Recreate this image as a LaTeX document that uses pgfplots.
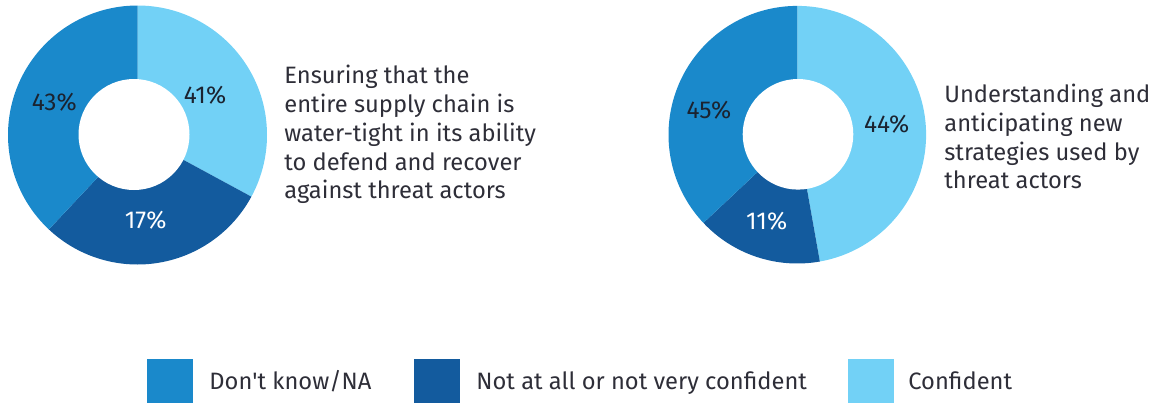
\documentclass[border=0pt]{standalone}
\usepackage{pgfplots}
\pgfplotsset{compat=1.18}
\usepackage{fontspec}
\setmainfont{Fira Sans}
\newfontfamily\plainfont{Fira Sans}
\definecolor{cDK}{HTML}{1A89CB}
\definecolor{cNot}{HTML}{135B9E}
\definecolor{cConf}{HTML}{72D1F6}
\definecolor{txt}{HTML}{2E2E38}
\definecolor{lbl}{HTML}{1B2330}
% #1 cx, #2 cy, #3 R, #4 cumulative share before, #5 share, #6 colour
\newcommand\donutwedge[6]{%
  \fill[#6] (axis cs:#1,#2) -- (axis cs:{#1+#3*cos(90-3.6*(#4))},{#2-#3*sin(90-3.6*(#4))})
    arc[start angle={90-3.6*(#4)}, end angle={90-3.6*(#4+#5)}, radius={#3*0.5pt}] -- cycle;}
\begin{document}
\begin{tikzpicture}
\begin{axis}[
  x=0.5pt, y=0.5pt, y dir=reverse,
  xmin=0, xmax=1157, ymin=0, ymax=403,
  hide axis, clip=false, scale only axis,
]
% Left donut (drawn shares: Confident, Not at all, Don't know)
\donutwedge{137.5}{135}{129.5}{0}{32.9}{cConf}
\donutwedge{137.5}{135}{129.5}{32.9}{29.1}{cNot}
\donutwedge{137.5}{135}{129.5}{62.0}{38.0}{cDK}
\fill[white] (axis cs:134,134.5) circle[radius=27.75pt];
% Right donut
\donutwedge{797.3}{134.7}{128.8}{0}{47.2}{cConf}
\donutwedge{797.3}{134.7}{128.8}{47.2}{15.8}{cNot}
\donutwedge{797.3}{134.7}{128.8}{63.0}{37.0}{cDK}
\fill[white] (axis cs:798,134.3) circle[radius=27.65pt];
% slice labels
\tikzset{lab/.style={font=\fontsize{12.2}{14}\selectfont, inner sep=0}}
\node[lab, text=lbl] at (axis cs:205,95) {41\%};
\node[lab, text=white] at (axis cs:145.7,220) {17\%};
\node[lab, text=lbl] at (axis cs:54.3,101.7) {43\%};
\node[lab, text=lbl] at (axis cs:886.7,124) {44\%};
\node[lab, text=white] at (axis cs:766.7,220.7) {11\%};
\node[lab, text=lbl] at (axis cs:709,110) {45\%};
% descriptions
\tikzset{desc/.style={anchor=base west, inner sep=0, text=txt, font=\fontsize{11.85}{14}\selectfont}}
\node[desc] at (axis cs:284,83.3) {Ensuring that the};
\node[desc] at (axis cs:284,112.7) {entire supply chain is};
\node[desc] at (axis cs:284,141.7) {water-tight in its ability};
\node[desc] at (axis cs:284,170) {to defend and recover};
\node[desc] at (axis cs:284,198.3) {against threat actors};
\node[desc] at (axis cs:944,102.3) {Understanding and};
\node[desc] at (axis cs:944,131) {anticipating new};
\node[desc] at (axis cs:944,160) {strategies used by};
\node[desc] at (axis cs:944,188.3) {threat actors};
% legend
\fill[cDK] (axis cs:146.7,359) rectangle (axis cs:192.7,403);
\fill[cNot] (axis cs:414,359) rectangle (axis cs:460,403);
\fill[cConf] (axis cs:848,359) rectangle (axis cs:894,403);
\node[desc] at (axis cs:209,389) {Don{\plainfont '}t know/NA};
\node[desc] at (axis cs:476,389) {Not at all or not very confident};
\node[desc] at (axis cs:908,389) {Confident};
\end{axis}
\pgfresetboundingbox
\path[use as bounding box] (current axis.south west) rectangle (current axis.north east);
\end{tikzpicture}
\end{document}
